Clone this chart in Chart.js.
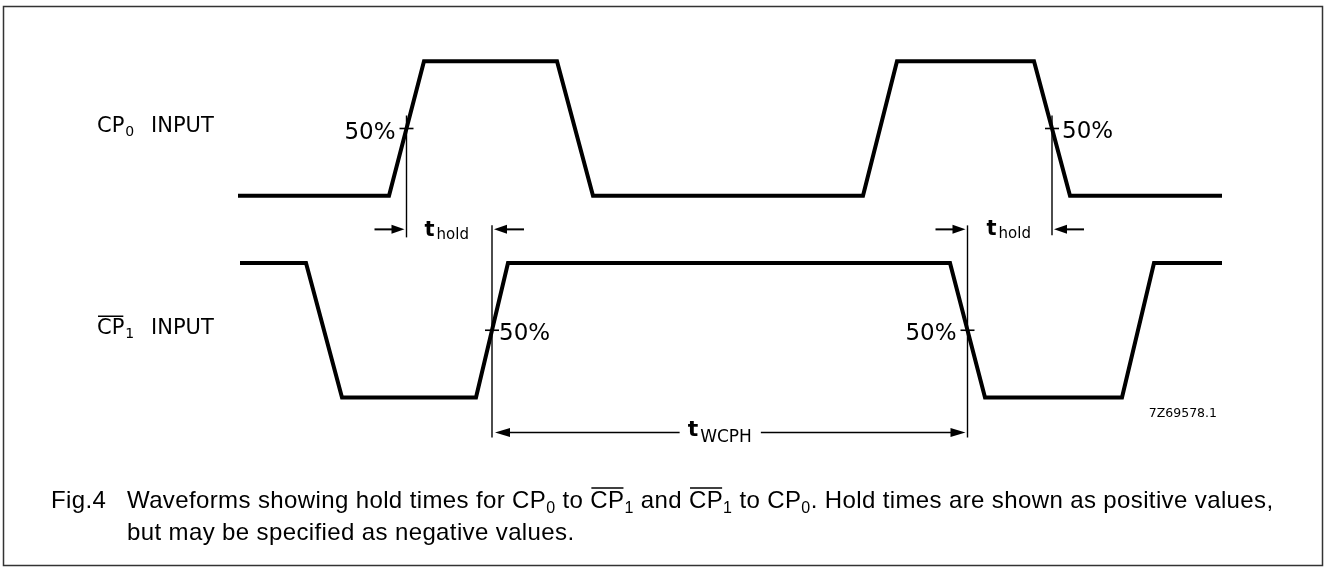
<!DOCTYPE html>
<html><head><meta charset="utf-8">
<script src="https://cdn.jsdelivr.net/npm/chart.js@4.4.1/dist/chart.umd.min.js"></script>
<style>
html,body{margin:0;padding:0;background:#fff}
#wrap{position:relative;width:1326px;height:568px}
</style>
</head><body>
<div id="wrap"><canvas id="c"></canvas></div>
<script>
// ---- data: waveform break points (time units) and logic levels ----
const cp0Times  = [238, 389, 424, 557, 593, 863, 897, 1034, 1070, 1222];
const cp0Levels = [0, 0, 1, 1, 0, 0, 1, 1, 0, 0];
const cp1Times  = [240, 306, 342, 476, 508, 950, 985, 1122, 1154, 1222];
const cp1Levels = [1, 1, 0, 0, 1, 1, 0, 0, 1, 1];
// edges (index of first point of the edge) used by the timing markers
const cp0RiseEdge = 1, cp0FallEdge = 7;
const cp1RiseEdge = 3, cp1FallEdge = 5;
const thresholdLabel = '50%';
const figureId = '7Z69578.1';

// ---- layout ----
const CP0_ROW = 1.5, CP1_ROW = 0;
const mid = (t, i) => (t[i] + t[i + 1]) / 2;
const toPts = (times, levels, row) => times.map((t, i) => ({x: t, y: row + levels[i]}));

const FONT = '"DejaVu Sans", sans-serif';
const CAP = '"Liberation Sans", Arial, Helvetica, sans-serif';

function drawRich(ctx, x, y, parts, align) {
  let w = 0;
  parts.forEach(p => { ctx.font = p.font; p.w = ctx.measureText(p.text).width; w += p.w + (p.gap || 0); });
  let cx = align === 'right' ? x - w : (align === 'center' ? x - w / 2 : x);
  parts.forEach(p => {
    cx += (p.gap || 0);
    ctx.font = p.font;
    ctx.textAlign = 'left';
    ctx.textBaseline = 'alphabetic';
    ctx.fillText(p.text, cx, y + (p.dy || 0));
    if (p.over) {
      ctx.save();
      ctx.lineWidth = 1.5;
      ctx.beginPath();
      ctx.moveTo(cx + 1, y + (p.dy || 0) - p.over);
      ctx.lineTo(cx + p.w - 1, y + (p.dy || 0) - p.over);
      ctx.stroke();
      ctx.restore();
    }
    cx += p.w;
  });
  return w;
}

function arrow(ctx, fromX, toX, y, headLen, halfW) {
  const dir = Math.sign(toX - fromX);
  ctx.beginPath();
  ctx.moveTo(fromX, y);
  ctx.lineTo(toX - dir * headLen * 0.6, y);
  ctx.stroke();
  ctx.beginPath();
  ctx.moveTo(toX, y);
  ctx.lineTo(toX - dir * headLen, y - halfW);
  ctx.lineTo(toX - dir * headLen, y + halfW);
  ctx.closePath();
  ctx.fill();
}

const overlay = {
  id: 'overlay',
  afterDatasetsDraw(chart) {
    const ctx = chart.ctx;
    const xs = chart.scales.x, ys = chart.scales.y;
    const X = t => xs.getPixelForValue(t);
    const Y = v => ys.getPixelForValue(v);
    ctx.save();
    ctx.fillStyle = '#000';
    ctx.strokeStyle = '#000';

    // frame
    ctx.strokeStyle = '#333';
    ctx.lineWidth = 1.5;
    ctx.strokeRect(3.5, 6.5, 1319, 559);
    ctx.strokeStyle = '#000';

    const a = X(mid(cp0Times, cp0RiseEdge));
    const b = X(mid(cp1Times, cp1RiseEdge));
    const c = X(mid(cp1Times, cp1FallEdge));
    const d = X(mid(cp0Times, cp0FallEdge));
    const y0 = Y(CP0_ROW + 0.5);
    const y1 = Y(CP1_ROW + 0.5);
    const holdY = (Y(CP0_ROW) + Y(CP1_ROW + 1)) / 2;
    const wY = Y(CP1_ROW) + 35;

    // vertical reference lines
    ctx.lineWidth = 1.4;
    [[a, y0 - 13, holdY + 8], [d, y0 - 13, holdY + 6], [b, holdY - 4, wY + 5], [c, holdY - 4, wY + 5]].forEach(([x, t, bt]) => {
      ctx.beginPath(); ctx.moveTo(x, t); ctx.lineTo(x, bt); ctx.stroke();
    });
    // 50% ticks
    ctx.lineWidth = 1.6;
    [[a, y0], [d, y0], [b, y1], [c, y1]].forEach(([x, y]) => {
      ctx.beginPath(); ctx.moveTo(x - 7, y); ctx.lineTo(x + 7, y); ctx.stroke();
    });
    // 50% labels
    const f50 = '23px ' + FONT;
    drawRich(ctx, a - 11, y0 + 11, [{text: thresholdLabel, font: f50}], 'right');
    drawRich(ctx, d + 10, y0 + 10, [{text: thresholdLabel, font: f50}], 'left');
    drawRich(ctx, b + 7, y1 + 10, [{text: thresholdLabel, font: f50}], 'left');
    drawRich(ctx, c - 11, y1 + 10, [{text: thresholdLabel, font: f50}], 'right');

    // hold arrows
    ctx.lineWidth = 2;
    arrow(ctx, a - 32, a - 2, holdY, 13, 4.5);
    arrow(ctx, b + 32, b + 2, holdY, 13, 4.5);
    arrow(ctx, c - 32, c - 2, holdY, 13, 4.5);
    arrow(ctx, d + 32, d + 2, holdY, 13, 4.5);
    const holdParts = () => [
      {text: 't', font: 'bold 21px ' + FONT},
      {text: 'hold', font: '15px ' + FONT, dy: 3, gap: 2}
    ];
    drawRich(ctx, a + 18, holdY + 7, holdParts(), 'left');
    drawRich(ctx, c + 19, holdY + 6, holdParts(), 'left');

    // tWCPH
    const lblParts = [
      {text: 't', font: 'bold 22px ' + FONT},
      {text: 'WCPH', font: '17px ' + FONT, dy: 6, gap: 2}
    ];
    const lx = (b + c) / 2 - 10;
    const lw = drawRich(ctx, lx, wY + 4, lblParts, 'center');
    ctx.lineWidth = 1.6;
    arrow(ctx, lx - lw / 2 - 8, b + 3, wY, 15, 4.5);
    arrow(ctx, lx + lw / 2 + 9, c - 2, wY, 15, 4.5);

    // signal names
    const fN = '21px ' + FONT, fS = '14px ' + FONT;
    drawRich(ctx, 97, y0 + 4, [{text: 'CP', font: fN}, {text: '0', font: fS, dy: 4, gap: 1}], 'left');
    drawRich(ctx, 151, y0 + 4, [{text: 'INPUT', font: fN}], 'left');
    drawRich(ctx, 97, y1 + 4, [{text: 'CP', font: fN, over: 18}, {text: '1', font: fS, dy: 4, gap: 1}], 'left');
    drawRich(ctx, 151, y1 + 4, [{text: 'INPUT', font: fN}], 'left');

    // figure id
    drawRich(ctx, 1217, Y(CP1_ROW) + 20, [{text: figureId, font: '12.5px ' + FONT}], 'right');

    // caption
    ctx.letterSpacing = '0.38px';
    const cf = '24px ' + CAP, cs = '16px ' + CAP;
    const capY1 = 508, capY2 = 540;
    drawRich(ctx, 51, capY1, [{text: 'Fig.4', font: cf}], 'left');
    drawRich(ctx, 127, capY1, [
      {text: 'Waveforms showing hold times for CP', font: cf},
      {text: '0', font: cs, dy: 5},
      {text: ' to ', font: cf},
      {text: 'CP', font: cf, over: 20},
      {text: '1', font: cs, dy: 5},
      {text: ' and ', font: cf},
      {text: 'CP', font: cf, over: 20},
      {text: '1', font: cs, dy: 5},
      {text: ' to CP', font: cf},
      {text: '0', font: cs, dy: 5},
      {text: '. Hold times are shown as positive values,', font: cf}
    ], 'left');
    drawRich(ctx, 127, capY2, [{text: 'but may be specified as negative values.', font: cf}], 'left');
    ctx.letterSpacing = '0px';
    ctx.restore();
  }
};

const lineStyle = {
  showLine: true, borderColor: '#000', borderWidth: 4, pointRadius: 0,
  tension: 0, borderJoinStyle: 'miter', borderCapStyle: 'butt', fill: false, clip: false
};

new Chart(document.getElementById('c'), {
  type: 'scatter',
  data: {
    datasets: [
      Object.assign({label: 'CP0 INPUT', data: toPts(cp0Times, cp0Levels, CP0_ROW)}, lineStyle),
      Object.assign({label: 'CP1 INPUT', data: toPts(cp1Times, cp1Levels, CP1_ROW)}, lineStyle)
    ]
  },
  options: {
    responsive: true,
    maintainAspectRatio: false,
    animation: false,
    events: [],
    layout: {padding: 0},
    plugins: {legend: {display: false}, tooltip: {enabled: false}, title: {display: false}},
    scales: {
      x: {type: 'linear', min: 0, max: 1326, display: false},
      y: {type: 'linear', min: -1.2677, max: 2.9554, display: false}
    }
  },
  plugins: [overlay]
});
</script>
</body></html>
